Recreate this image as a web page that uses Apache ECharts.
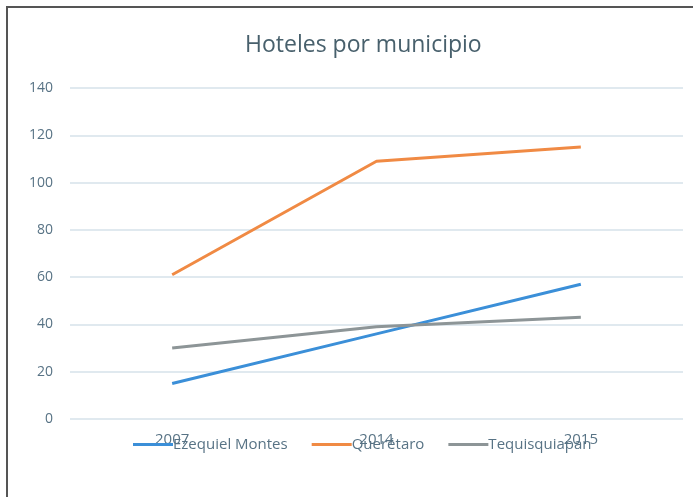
<!DOCTYPE html>
<html lang="es">
<head>
    <meta charset="utf-8">
    <title>Hoteles por municipio</title>
    <style>
        body { margin: 0; background: #fff; overflow: hidden; }
        #frame { position: absolute; left: 6px; top: 6px; width: 700px; height: 500px; border-left: 2px solid #555; border-top: 2px solid #555; }
        #main { position: absolute; left: 0; top: 0; width: 693px; height: 497px; }
    </style>
</head>
<body>
    <div id="frame"></div>
    <div id="main"></div>
    <script src="https://cdn.jsdelivr.net/npm/echarts@6/dist/echarts.min.js"></script>
    <script type="text/javascript">
        var myChart = echarts.init(document.getElementById('main'));

        // datos
        var years = ['2007', '2014', '2015'];
        var ezequielMontes = [15, 36, 57];
        var queretaro = [61, 109, 115];
        var tequisquiapan = [30, 39, 43];
        var yTicks = [0, 140, 20]; // min, max, intervalo

        var textColor = '#587385';
        var font = 'Open Sans';

        function serie(name, data, color) {
            return {
                name: name,
                type: 'line',
                data: data,
                symbol: 'none',
                lineStyle: { color: color, width: 3 },
                itemStyle: { color: color }
            };
        }

        var option = {
            title: {
                text: 'Hoteles por municipio',
                left: 240,
                top: 29,
                textStyle: { color: '#48606c', fontSize: 23, fontWeight: 'normal', fontFamily: font }
            },
            legend: {
                bottom: 40,
                left: 128,
                icon: 'rect',
                itemWidth: 40,
                itemHeight: 3,
                itemGap: 24,
                textStyle: { color: textColor, fontSize: 15, fontFamily: font, padding: [0, 0, 0, -5] },
                data: ['Ezequiel Montes', 'Querétaro', 'Tequisquiapan']
            },
            grid: { left: 70, right: 10, top: 88, bottom: 78 },
            xAxis: {
                type: 'category',
                data: years,
                axisLine: { show: false },
                axisTick: { show: false },
                axisLabel: { color: textColor, fontSize: 15, fontFamily: font, margin: 13 }
            },
            yAxis: {
                type: 'value',
                min: yTicks[0],
                max: yTicks[1],
                interval: yTicks[2],
                axisLine: { show: false },
                axisTick: { show: false },
                splitLine: { lineStyle: { color: '#d6e2ea', width: 1.5 } },
                axisLabel: { color: textColor, fontSize: 14, fontFamily: font, margin: 17 }
            },
            series: [
                serie('Ezequiel Montes', ezequielMontes, '#3b8fd8'),
                serie('Querétaro', queretaro, '#f08a44'),
                serie('Tequisquiapan', tequisquiapan, '#8d9597')
            ]
        };
        myChart.setOption(option);
    </script>
</body>
</html>
